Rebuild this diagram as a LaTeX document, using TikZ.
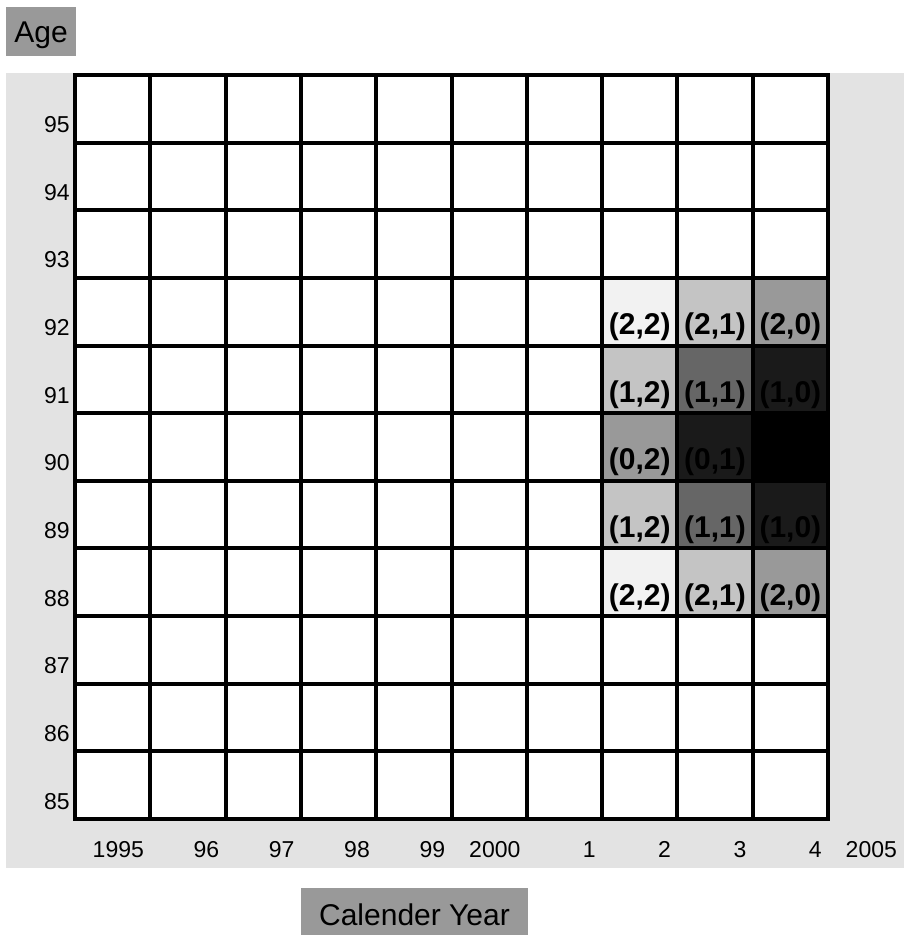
\documentclass[tikz,border=0pt]{standalone}
\usepackage{fontspec}
\setmainfont{Liberation Sans}
\usepackage{tikz}
\usetikzlibrary{positioning}
\definecolor{panelgray}{RGB}{227,227,227}
\definecolor{titlegray}{RGB}{153,153,153}
\definecolor{shadeA}{RGB}{242,242,242}
\definecolor{shadeB}{RGB}{196,196,196}
\definecolor{shadeC}{RGB}{153,153,153}
\definecolor{shadeD}{RGB}{102,102,102}
\definecolor{shadeE}{RGB}{26,26,26}
\tikzset{
  titlebox/.style = {fill=titlegray, inner sep=0pt, font=\fontsize{15}{18}\selectfont},
  tick/.style     = {inner sep=0pt, anchor=base east, font=\fontsize{11.5}{14}\selectfont},
  cellval/.style  = {inner sep=0pt, anchor=base, font=\bfseries\fontsize{15}{18}\selectfont},
  gridline/.style = {line width=2pt, line cap=rect},
}

\begin{document}
\begin{tikzpicture}[x=0.5pt, y=-0.5pt]
  \useasboundingbox (0,0) rectangle (904,936);
  \def\cw{75.3}
  \def\rh{67.636}
  % panel behind the axis labels
  \fill[panelgray] (6,73) rectangle (904,868);
  \fill[white] (75,75) rectangle (828,819);
  % shaded cells
  \foreach \col/\row/\shade/\lbl in {7/3/shadeA/{(2,2)}, 8/3/shadeB/{(2,1)}, 9/3/shadeC/{(2,0)},
      7/4/shadeB/{(1,2)}, 8/4/shadeD/{(1,1)}, 9/4/shadeE/{(1,0)},
      7/5/shadeC/{(0,2)}, 8/5/shadeE/{(0,1)}, 9/5/black/{},
      7/6/shadeB/{(1,2)}, 8/6/shadeD/{(1,1)}, 9/6/shadeE/{(1,0)},
      7/7/shadeA/{(2,2)}, 8/7/shadeB/{(2,1)}, 9/7/shadeC/{(2,0)}}
  {
    \fill[\shade] ({75+\col*\cw},{75+\row*\rh}) rectangle ({75+(\col+1)*\cw},{75+(\row+1)*\rh});
    \node[cellval] (cell-\col-\row) at ({75+(\col+0.5)*\cw},{75+(\row+1)*\rh-11}) {\lbl};
  }
  % grid
  \foreach \i in {0,...,10}
    \draw[gridline] ({75+\i*\cw},75) -- ({75+\i*\cw},819);
  \foreach \j in {0,...,11}
    \draw[gridline] (75,{75+\j*\rh}) -- (828,{75+\j*\rh});
  % axis ticks
  \foreach \j in {0,...,10} {
    \pgfmathtruncatemacro\agelbl{95-\j}
    \node[tick] (age-\j) at (70,{75+(\j+1)*\rh-10}) {\agelbl};
  }
  \foreach \yr [count=\i] in {1995,96,97,98,99,2000,1,2,3,4,2005}
    \node[tick] (year-\i) at ({75+\i*\cw-6},857) {\yr};
  % axis titles
  \node[titlebox, minimum width=35pt, minimum height=24.5pt, text height=14pt, text depth=2.5pt] (agetitle) at (41,31.5) {Age};
  \node[titlebox, minimum width=113.5pt, minimum height=23.5pt, text height=16pt, text depth=2.5pt] (yeartitle) at (414.5,911.5) {Calender Year};
\end{tikzpicture}
\end{document}
